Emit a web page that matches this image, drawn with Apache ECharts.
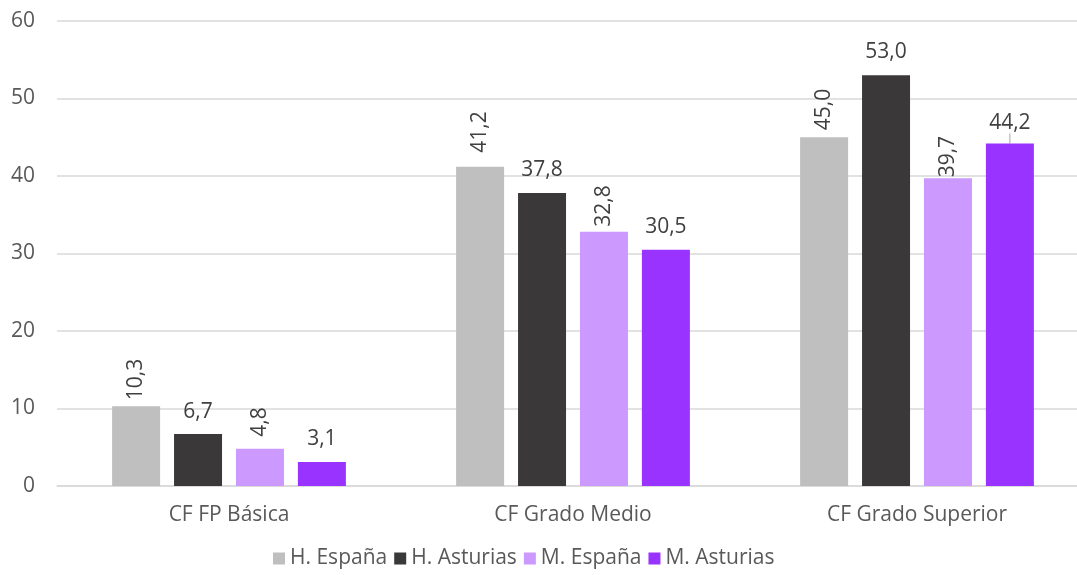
<!DOCTYPE html>
<html>
<head>
<meta charset="utf-8">
<script src="https://cdn.jsdelivr.net/npm/echarts@6/dist/echarts.min.js"></script>
<style>
  html, body { margin: 0; padding: 0; background: #fff; }
  #chart { width: 1077px; height: 575px; }
</style>
</head>
<body>
<div id="chart"></div>
<script>
  var categories = ['CF FP Básica', 'CF Grado Medio', 'CF Grado Superior'];
  var seriesNames = ['H. España', 'H. Asturias', 'M. España', 'M. Asturias'];
  var hEspana = [10.3, 41.2, 45.0];
  var hAsturias = [6.7, 37.8, 53.0];
  var mEspana = [4.8, 32.8, 39.7];
  var mAsturias = [3.1, 30.5, 44.2];
  var yTicks = [0, 10, 20, 30, 40, 50, 60];

  var colors = ['#bfbfbf', '#3a3838', '#cc99ff', '#9933ff'];
  var font = '"Open Sans", "Noto Sans", sans-serif';

  // Excel pone unas etiquetas en vertical y otras en horizontal
  var rotated = [true, false, true, false];
  var distances = [
    [6, 14, 7],
    [12, 13, 13],
    [12, 5, 1],
    [12, 12, 10]
  ];

  function fmt(v){
    return v.toFixed(1).replace('.', ',');
  }

  var allValues = [hEspana, hAsturias, mEspana, mAsturias];
  var series = [];
  allValues.forEach(function(vals, i){
    series.push({
      name: seriesNames[i],
      type: 'bar',
      barWidth: 48,
      barGap: '29%',
      itemStyle: { color: colors[i] },
      data: vals.map(function(v, j){
        var item = {
          value: v,
          label: { distance: distances[i][j] }
        };
        // 44,2 lleva línea guía como en el original
        if(i === 3 && j === 2){
          item.labelLine = { show: true, length2: 0, lineStyle: { color: '#a6a6a6', width: 1 } };
        }
        return item;
      }),
      label: {
        show: true,
        position: 'top',
        rotate: rotated[i] ? 90 : 0,
        align: rotated[i] ? 'left' : 'center',
        verticalAlign: rotated[i] ? 'middle' : 'bottom',
        color: '#404040',
        fontFamily: font,
        fontSize: 21,
        formatter: function(p){ return fmt(p.value); }
      }
    });
  });

  var option = {
    animation: false,
    color: colors,
    grid: {
      left: 57,
      width: 1032,
      top: 21,
      bottom: 89,
      outerBoundsMode: 'none'
    },
    legend: {
      bottom: 1,
      left: 268,
      itemWidth: 12,
      itemHeight: 12,
      itemGap: 7,
      icon: 'rect',
      textStyle: { color: '#595959', fontFamily: font, fontSize: 21 },
      data: seriesNames
    },
    xAxis: {
      type: 'category',
      data: categories,
      axisLine: { lineStyle: { color: '#d9d9d9', width: 1.5 } },
      axisTick: { show: false },
      axisLabel: { color: '#595959', fontFamily: font, fontSize: 21, margin: 19 }
    },
    yAxis: {
      type: 'value',
      min: yTicks[0],
      max: yTicks[yTicks.length - 1],
      interval: 10,
      axisLine: { show: false },
      axisTick: { show: false },
      splitLine: { lineStyle: { color: '#d9d9d9', width: 1.5 } },
      axisLabel: { color: '#595959', fontFamily: font, fontSize: 21, margin: 22 }
    },
    series: series
  };

  var myChart = echarts.init(document.getElementById('chart'));
  option && myChart.setOption(option, true);
</script>
</body>
</html>
